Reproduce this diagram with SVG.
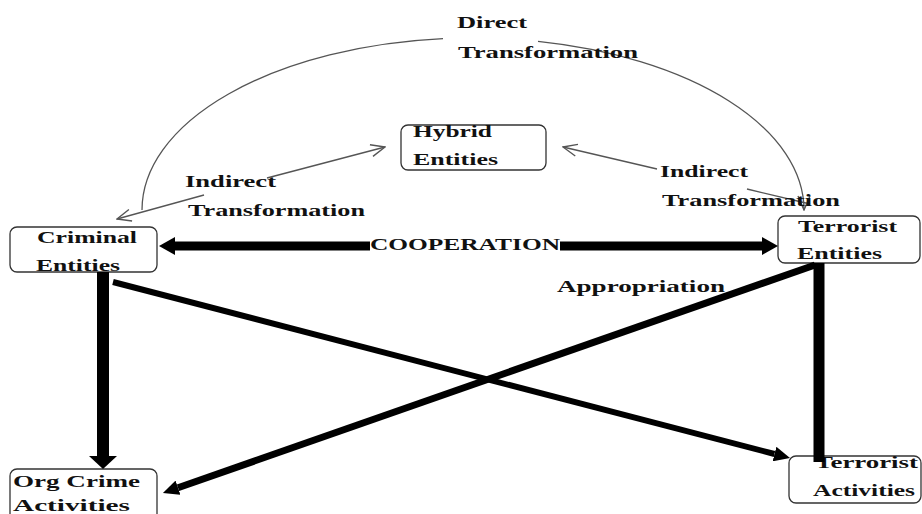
<svg xmlns="http://www.w3.org/2000/svg" width="922" height="514" viewBox="0 0 922 514">
<style>
.box{fill:#fff;stroke:#333;stroke-width:1.3}
.t{font-family:"Liberation Serif","Times New Roman",serif;font-weight:bold;font-size:17px;fill:#111}
.thin{fill:none;stroke:#555;stroke-width:1.3}
.thick{fill:none;stroke:#000}
</style>
<defs>
<marker id="open" markerUnits="userSpaceOnUse" markerWidth="16" markerHeight="14" viewBox="0 0 16 14" refX="15" refY="7" orient="auto-start-reverse">
<path d="M1,1 L15,7 L1,13" fill="none" stroke="#555" stroke-width="1.4"/>
</marker>
<marker id="headM" markerUnits="userSpaceOnUse" markerWidth="16" markerHeight="18" viewBox="0 0 16 18" refX="0" refY="9" orient="auto">
<path d="M0,0 L16,9 L0,18 z" fill="#000"/>
</marker>
<marker id="headL" markerUnits="userSpaceOnUse" markerWidth="13" markerHeight="28" viewBox="0 0 13 28" refX="0" refY="14" orient="auto">
<path d="M0,0 L13,14 L0,28 z" fill="#000"/>
</marker>
<marker id="headS" markerUnits="userSpaceOnUse" markerWidth="16" markerHeight="15" viewBox="0 0 16 15" refX="0" refY="7.5" orient="auto">
<path d="M0,0 L16,7.5 L0,15 z" fill="#000"/>
</marker>
</defs>

<g id="hybrid">
<rect class="box" x="401" y="125" width="145" height="45" rx="7"/>
<text class="t" x="413" y="137" textLength="79" lengthAdjust="spacingAndGlyphs">Hybrid</text>
<text class="t" x="413" y="165" textLength="85" lengthAdjust="spacingAndGlyphs">Entities</text>
</g>

<g id="criminal">
<rect class="box" x="10" y="227" width="147" height="45" rx="7"/>
<text class="t" x="37" y="243" textLength="100" lengthAdjust="spacingAndGlyphs">Criminal</text>
<text class="t" x="36" y="271" textLength="84" lengthAdjust="spacingAndGlyphs">Entities</text>
</g>

<g id="terrorist-entities">
<rect class="box" x="778" y="216" width="142" height="47" rx="7"/>
<text class="t" x="798" y="232" textLength="99" lengthAdjust="spacingAndGlyphs">Terrorist</text>
<text class="t" x="797" y="259" textLength="85" lengthAdjust="spacingAndGlyphs">Entities</text>
</g>

<g id="org-crime">
<rect class="box" x="10" y="469" width="147" height="56" rx="7"/>
<text class="t" x="13" y="487" textLength="127" lengthAdjust="spacingAndGlyphs">Org Crime</text>
<text class="t" x="13" y="511" textLength="117" lengthAdjust="spacingAndGlyphs">Activities</text>
</g>

<g id="terrorist-activities">
<rect class="box" x="789" y="456" width="132" height="47" rx="7"/>
<text class="t" x="815" y="468" textLength="103" lengthAdjust="spacingAndGlyphs">Terrorist</text>
<text class="t" x="813" y="496" textLength="102" lengthAdjust="spacingAndGlyphs">Activities</text>
</g>

<g id="connectors">
<path class="thin" d="M142,210 A331,172 0 0 1 443,38.7"/>
<path class="thin" d="M538,41.4 A331,172 0 0 1 804,210" marker-end="url(#open)"/>
<path class="thin" d="M204,195 L117,219" marker-end="url(#open)"/>
<path class="thin" d="M267,178 L385,147" marker-end="url(#open)"/>
<path class="thin" d="M657,169 L563,147" marker-end="url(#open)"/>
<path class="thin" d="M747,189 L810,204"/>
<path class="thick" stroke-width="9" d="M370,246 L175,246" marker-end="url(#headM)"/>
<path class="thick" stroke-width="9" d="M560,246 L762,246" marker-end="url(#headM)"/>
<path class="thick" stroke-width="12" d="M103,272 L103,456" marker-end="url(#headL)"/>
<path class="thick" stroke-width="11" d="M819,263 L819,462"/>
<path class="thick" stroke-width="6" d="M113,282 L774.5,454" marker-end="url(#headS)"/>
<path class="thick" stroke-width="7" d="M815,265 L178,487.7" marker-end="url(#headS)"/>
</g>

<g id="labels">
<text class="t" x="457" y="28" textLength="70" lengthAdjust="spacingAndGlyphs">Direct</text>
<text class="t" x="458" y="58" textLength="180" lengthAdjust="spacingAndGlyphs">Transformation</text>
<text class="t" x="185" y="187" textLength="91" lengthAdjust="spacingAndGlyphs">Indirect</text>
<text class="t" x="188" y="216" textLength="177" lengthAdjust="spacingAndGlyphs">Transformation</text>
<text class="t" x="660" y="177" textLength="88" lengthAdjust="spacingAndGlyphs">Indirect</text>
<text class="t" x="662" y="206" textLength="178" lengthAdjust="spacingAndGlyphs">Transformation</text>
<text class="t" x="370" y="250" textLength="190" lengthAdjust="spacingAndGlyphs">COOPERATION</text>
<text class="t" x="557" y="292" textLength="168" lengthAdjust="spacingAndGlyphs">Appropriation</text>
</g>
</svg>
